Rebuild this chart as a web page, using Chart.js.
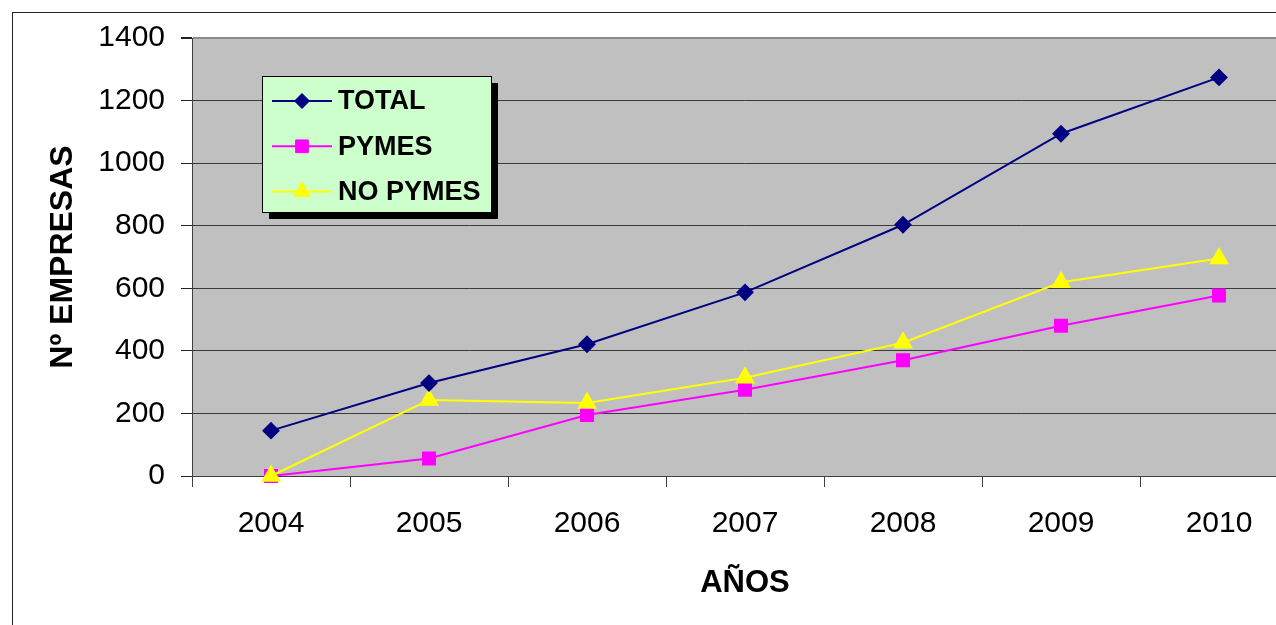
<!DOCTYPE html>
<html lang="es">

<head>
    <meta charset="UTF-8">
    <title>Nº Empresas por año</title>
    <script src="https://cdn.jsdelivr.net/npm/chart.js"></script>
    <style>
        html, body { margin: 0; padding: 0; background: #fff; overflow: hidden; }
        .marco {
            position: absolute;
            left: 12px;
            top: 12px;
            width: 1320px;
            height: 640px;
            border-left: 1px solid #222;
            border-top: 1px solid #222;
        }
        canvas { display: block; }
    </style>
</head>

<body>
    <div class="marco">
        <canvas id="graficoEmpresas" width="1300" height="620"></canvas>
    </div>

<script>
    // datos
    const anios = ['2004', '2005', '2006', '2007', '2008', '2009', '2010'];
    const total = [145, 297, 421, 587, 803, 1094, 1274];
    const pymes = [0, 56, 195, 276, 370, 480, 577];
    const noPymes = [0, 243, 233, 314, 426, 619, 695];
    const ticksY = [0, 200, 400, 600, 800, 1000, 1200, 1400];

    const fuente = "'Liberation Sans', Arial, sans-serif";

    // fondo gris del area de trazado
    const fondoGris = {
        id: 'fondoGris',
        beforeDraw(chart) {
            const a = chart.chartArea;
            const ctx = chart.ctx;
            ctx.save();
            ctx.fillStyle = '#c0c0c0';
            ctx.fillRect(a.left, a.top, a.right - a.left, a.bottom - a.top);
            ctx.restore();
        }
    };

    // leyenda en caja verde con sombra
    const leyendaCaja = {
        id: 'leyendaCaja',
        afterDraw(chart) {
            const ctx = chart.ctx;
            const a = chart.chartArea;
            const x = a.left + 70;
            const y = a.top + 38;
            const w = 229;
            const h = 136;
            ctx.save();
            ctx.fillStyle = '#000';
            ctx.fillRect(x + 7, y + 7, w, h);
            ctx.fillStyle = '#ccffcc';
            ctx.fillRect(x, y, w, h);
            ctx.strokeStyle = '#000';
            ctx.lineWidth = 1;
            ctx.strokeRect(x + 0.5, y + 0.5, w, h);

            const radios = [7.5, 9, 9.5];
            chart.data.datasets.forEach(function (ds, i) {
                const fy = y + 25 + i * 45.3;
                ctx.strokeStyle = ds.borderColor;
                ctx.lineWidth = 2;
                ctx.beginPath();
                ctx.moveTo(x + 10, fy);
                ctx.lineTo(x + 70, fy);
                ctx.stroke();
                ctx.fillStyle = ds.backgroundColor;
                ctx.lineWidth = 1;
                Chart.helpers.drawPoint(ctx, { pointStyle: ds.pointStyle, radius: radios[i], rotation: 0, borderWidth: 1 }, x + 40, fy);
                ctx.fillStyle = '#000';
                ctx.font = 'bold 27px ' + fuente;
                ctx.textAlign = 'left';
                ctx.textBaseline = 'middle';
                ctx.fillText(ds.label, x + 76, fy + 1);
            });
            ctx.restore();
        }
    };

    const config = {
        type: 'line',
        data: {
            labels: anios,
            datasets: [{
                label: 'TOTAL',
                data: total,
                borderColor: '#000080',
                backgroundColor: '#000080',
                borderWidth: 2,
                pointStyle: 'rectRot',
                pointRadius: 7.5,
                tension: 0,
                clip: false,
                order: 0
            }, {
                label: 'PYMES',
                data: pymes,
                borderColor: '#ff00ff',
                backgroundColor: '#ff00ff',
                borderWidth: 2,
                pointStyle: 'rect',
                pointRadius: 8.5,
                tension: 0,
                clip: false,
                order: 2
            }, {
                label: 'NO PYMES',
                data: noPymes,
                borderColor: '#ffff00',
                backgroundColor: '#ffff00',
                borderWidth: 2,
                pointStyle: 'triangle',
                pointRadius: 9.5,
                tension: 0,
                clip: false,
                order: 1
            }]
        },
        options: {
            responsive: false,
            animation: false,
            layout: { padding: { top: 25, right: 15, bottom: 0, left: 0 } },
            plugins: {
                legend: { display: false },
                tooltip: { enabled: false }
            },
            scales: {
                x: {
                    offset: true,
                    afterFit(scale) { scale.height = 157; },
                    grid: {
                        offset: true,
                        drawOnChartArea: false,
                        tickLength: 11,
                        tickColor: '#404040'
                    },
                    border: { color: '#404040', width: 1 },
                    ticks: {
                        color: '#000',
                        padding: 19,
                        font: { family: fuente, size: 30 }
                    },
                    title: {
                        display: true,
                        text: 'AÑOS',
                        color: '#000',
                        padding: { top: 0, bottom: 31 },
                        font: { family: fuente, size: 31, weight: 'bold' }
                    }
                },
                y: {
                    min: 0,
                    max: 1400,
                    afterFit(scale) {
                        scale.width = 179;
                        scale.paddingTop = 0;
                        scale.paddingBottom = 0;
                    },
                    afterBuildTicks(scale) {
                        scale.ticks = ticksY.map(function (v) { return { value: v }; });
                    },
                    grid: {
                        tickLength: 11,
                        color: function (c) { return c.tick && c.tick.value === 1400 ? '#8c8c8c' : '#3a3a3a'; },
                        lineWidth: function (c) { return c.tick && c.tick.value === 1400 ? 2 : 1; },
                        tickColor: '#222'
                    },
                    border: { color: '#404040', width: 1 },
                    ticks: {
                        color: '#000',
                        padding: 16,
                        font: { family: fuente, size: 30 },
                        callback: function (v) { return String(v); }
                    },
                    title: {
                        display: true,
                        text: 'Nº EMPRESAS',
                        color: '#000',
                        padding: { top: 31, bottom: 0 },
                        font: { family: fuente, size: 32, weight: 'bold' }
                    }
                }
            }
        },
        plugins: [fondoGris, leyendaCaja]
    };

    new Chart(document.getElementById('graficoEmpresas'), config);
</script>
</body>

</html>
